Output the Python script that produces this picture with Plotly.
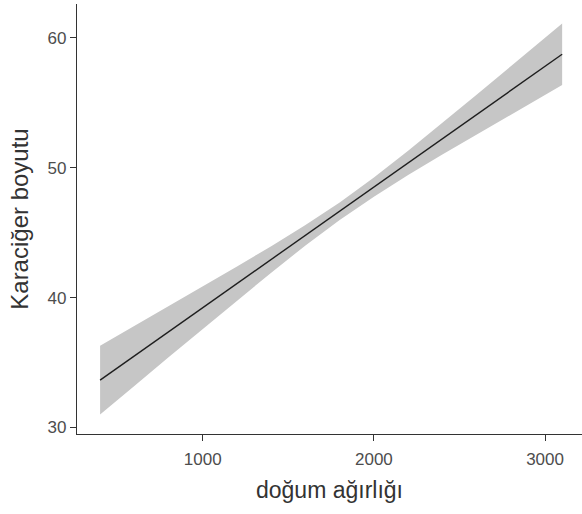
import plotly.graph_objects as go

# Birth weight grid with fitted liver size and 95% confidence band
dogum_agirligi = [400, 600, 800, 1000, 1200, 1400, 1600, 1800, 2000, 2200, 2400, 2600, 2800, 3000, 3100]
tahmin = [33.65, 35.51, 37.37, 39.22, 41.08, 42.94, 44.80, 46.65, 48.51, 50.37, 52.23, 54.09, 55.95, 57.80, 58.73]
alt_sinir = [31.00, 33.20, 35.40, 37.59, 39.77, 41.92, 44.01, 45.98, 47.77, 49.43, 51.01, 52.56, 54.09, 55.60, 56.36]
ust_sinir = [36.30, 37.82, 39.34, 40.85, 42.40, 43.96, 45.59, 47.32, 49.25, 51.31, 53.45, 55.62, 57.81, 60.00, 61.10]

x_ticks = [1000, 2000, 3000]
y_ticks = [30, 40, 50, 60]

fig = go.Figure()

# confidence band (polygon: upper edge forward, lower edge back)
fig.add_trace(go.Scatter(
    x=dogum_agirligi + dogum_agirligi[::-1],
    y=ust_sinir + alt_sinir[::-1],
    fill="toself",
    fillcolor="#c6c6c6",
    line=dict(width=0),
    mode="lines",
    hoverinfo="skip",
    showlegend=False,
))

# fitted regression line
fig.add_trace(go.Scatter(
    x=dogum_agirligi,
    y=tahmin,
    mode="lines",
    line=dict(color="#1e1e1e", width=1.4),
    showlegend=False,
))

axis_common = dict(
    showgrid=False,
    zeroline=False,
    showline=True,
    linecolor="#333333",
    linewidth=1.2,
    ticks="outside",
    ticklen=6,
    tickwidth=1.2,
    tickcolor="#333333",
    tickfont=dict(family="Liberation Sans, Arial, sans-serif", size=17, color="#4d4d4d"),
)

fig.update_layout(
    width=582,
    height=514,
    margin=dict(l=77, r=0, t=4, b=80),
    paper_bgcolor="white",
    plot_bgcolor="white",
    font=dict(family="Liberation Sans, Arial, sans-serif"),
    xaxis=dict(
        **axis_common,
        range=[265, 3216],
        tickvals=x_ticks,
        ticklabelstandoff=3,
        title=dict(text="doğum ağırlığı", font=dict(size=23, color="#333333"), standoff=14),
    ),
    yaxis=dict(
        **axis_common,
        range=[29.5, 62.6],
        tickvals=y_ticks,
        title=dict(text="Karaciğer boyutu", font=dict(size=24, color="#333333"), standoff=12),
    ),
)

fig.write_html("out.html")
